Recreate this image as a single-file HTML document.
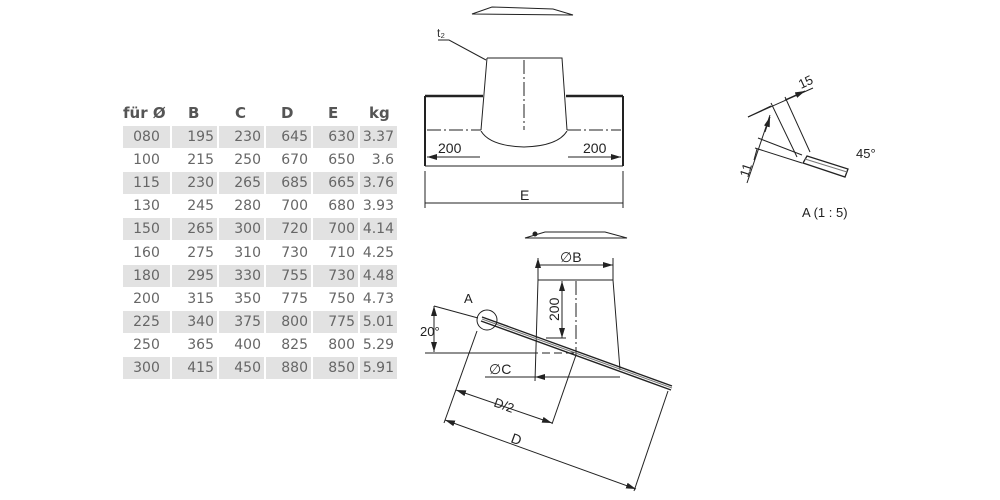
<!DOCTYPE html>
<html><head><meta charset="utf-8"><style>
body{margin:0;background:#fff;width:1000px;height:500px;overflow:hidden;position:relative;font-family:"Liberation Sans",sans-serif}
.t{position:absolute;left:123px;top:104px}
.h{position:absolute;font-weight:bold;color:#555;font-size:15px;font-family:"DejaVu Sans",sans-serif;white-space:nowrap}
.row{position:absolute;left:0;height:22px;width:272px}
.c{position:absolute;top:0;height:22px;line-height:22px;font-size:14px;color:#666;font-family:"DejaVu Sans",sans-serif;text-align:right;box-sizing:border-box;padding-right:3px}
.g .c{background:#e2e2e2}
</style></head><body>
<div class="t">
<div class="h" style="left:0;top:0">für Ø</div>
<div class="h" style="left:65px;top:0">B</div>
<div class="h" style="left:112px;top:0">C</div>
<div class="h" style="left:158px;top:0">D</div>
<div class="h" style="left:205px;top:0">E</div>
<div class="h" style="left:246px;top:0">kg</div>
</div>
<div id="rows" style="position:absolute;left:123px;top:126px"></div>
<script>
var d=[["080",195,230,645,630,"3.37"],["100",215,250,670,650,"3.6"],["115",230,265,685,665,"3.76"],["130",245,280,700,680,"3.93"],["150",265,300,720,700,"4.14"],["160",275,310,730,710,"4.25"],["180",295,330,755,730,"4.48"],["200",315,350,775,750,"4.73"],["225",340,375,800,775,"5.01"],["250",365,400,825,800,"5.29"],["300",415,450,880,850,"5.91"]];
var xs=[0,49,96,143,190,237],ws=[47,45,45,45,45,37],h="";
d.forEach(function(r,i){h+='<div class="row'+(i%2==0?' g':'')+'" style="top:'+(i*23.1)+'px">';r.forEach(function(v,j){h+='<div class="c" style="left:'+xs[j]+'px;width:'+ws[j]+'px;'+(j==0?'text-align:center;padding-right:0;':'')+'">'+v+'</div>'});h+='</div>'});
document.getElementById('rows').innerHTML=h;
</script>
<svg width="1000" height="500" style="position:absolute;left:0;top:0" font-family="Liberation Sans,sans-serif" fill="none" stroke="#222" stroke-width="1">
<defs><marker id="a" viewBox="0 0 10 6" refX="10" refY="3" markerWidth="10" markerHeight="6" orient="auto-start-reverse" markerUnits="userSpaceOnUse"><path d="M0,0L10,3L0,6z" fill="#222" stroke="none"/></marker></defs>
<path d="M472,14L492,7L553,9L573,15Z"/>
<text x="437" y="37" font-size="12" fill="#333" stroke="none">t₂</text>
<path d="M438,40H449L486,60"/>
<path d="M487,58H562L567,130M487,58L481,130"/>
<path d="M481,131Q490,146 524,147Q558,146 567,131"/>
<path d="M524,60V130" stroke-dasharray="14,3,2,3"/>
<path d="M425,96H483M566,96H623" stroke-width="2.5"/>
<path d="M425,96V166M623,96V166" stroke-width="2"/>
<path d="M425,166H623"/>
<path d="M427,130H481M567,130H621" stroke-dasharray="14,3,2,3"/>
<path d="M427,157H480M568,157H621" marker-start="url(#a)" marker-end="url(#a)"/>
<text x="438" y="153" font-size="14" fill="#222" stroke="none">200</text>
<text x="583" y="153" font-size="14" fill="#222" stroke="none">200</text>
<path d="M425,171V208M623,171V208M425,203H623"/>
<text x="520" y="200" font-size="14" fill="#222" stroke="none">E</text>
<path d="M525,238L545,232H605L627,238Z"/><circle cx="535" cy="234" r="2" fill="#222"/>
<path d="M538,258V280M613,258V280M538,265H613" marker-start="url(#a)" marker-end="url(#a)"/>
<text x="560" y="262" font-size="14" fill="#222" stroke="none">∅B</text>
<path d="M538,280H613L620,370M538,280L535,381"/>
<path d="M562,281V338" marker-start="url(#a)" marker-end="url(#a)"/>
<path d="M546,338H566"/>
<text x="0" y="0" font-size="14" fill="#222" stroke="none" transform="translate(559,321) rotate(-90)">200</text>
<path d="M576,281V355" stroke-dasharray="14,3,2,3"/>
<path d="M576,355L552,424"/>
<path d="M482,317L672,386M481,321L671,390" stroke-width="1.4"/>
<path d="M482,319L672,388" stroke="#777" stroke-width="1"/>
<circle cx="487" cy="320" r="10"/>
<text x="464" y="303" font-size="13" fill="#222" stroke="none">A</text>
<path d="M434,306L478,318"/>
<path d="M425,353H530"/><path d="M530,353H576" stroke-dasharray="8,4"/>
<path d="M434,306V352" marker-start="url(#a)" marker-end="url(#a)"/>
<text x="420" y="336" font-size="13" fill="#222" stroke="none">20°</text>
<path d="M485,377H620"/><path d="M535,377H550M620,377H605" marker-start="url(#a)"/>
<text x="489" y="374" font-size="14" fill="#222" stroke="none">∅C</text>
<path d="M477,331L444,423"/>
<path d="M456,390L552,423" marker-start="url(#a)" marker-end="url(#a)"/>
<text x="0" y="0" font-size="13" fill="#222" stroke="none" transform="translate(493,406) rotate(20)">D/2</text>
<path d="M445,420L636,489" marker-start="url(#a)" marker-end="url(#a)"/>
<path d="M668,391L634,491"/>
<text x="0" y="0" font-size="14" fill="#222" stroke="none" transform="translate(510,442) rotate(20)">D</text>
<path d="M807,156L848,169L845,177L803,163Z" stroke-width="1.3"/>
<path d="M805,159L847,172" stroke="#777"/>
<path d="M758,138L802,155M755,148L802,163"/>
<path d="M797,157L771,103M810,152L785,97"/>
<path d="M748,117L813,88"/><path d="M771,106L748,117M785,100L805,91" marker-end="url(#a)"/>
<path d="M770,115L747,183"/><path d="M770,117L765,132M754,160L757,149" marker-start="url(#a)"/>
<text x="0" y="0" font-size="13" fill="#222" stroke="none" transform="translate(801,89) rotate(-25)">15</text>
<text x="0" y="0" font-size="13" fill="#222" stroke="none" transform="translate(748,178) rotate(-72)">11</text>
<text x="856" y="158" font-size="13" fill="#222" stroke="none">45°</text>
<text x="802" y="217" font-size="13" fill="#222" stroke="none">A (1 : 5)</text>
</svg>
</body></html>
